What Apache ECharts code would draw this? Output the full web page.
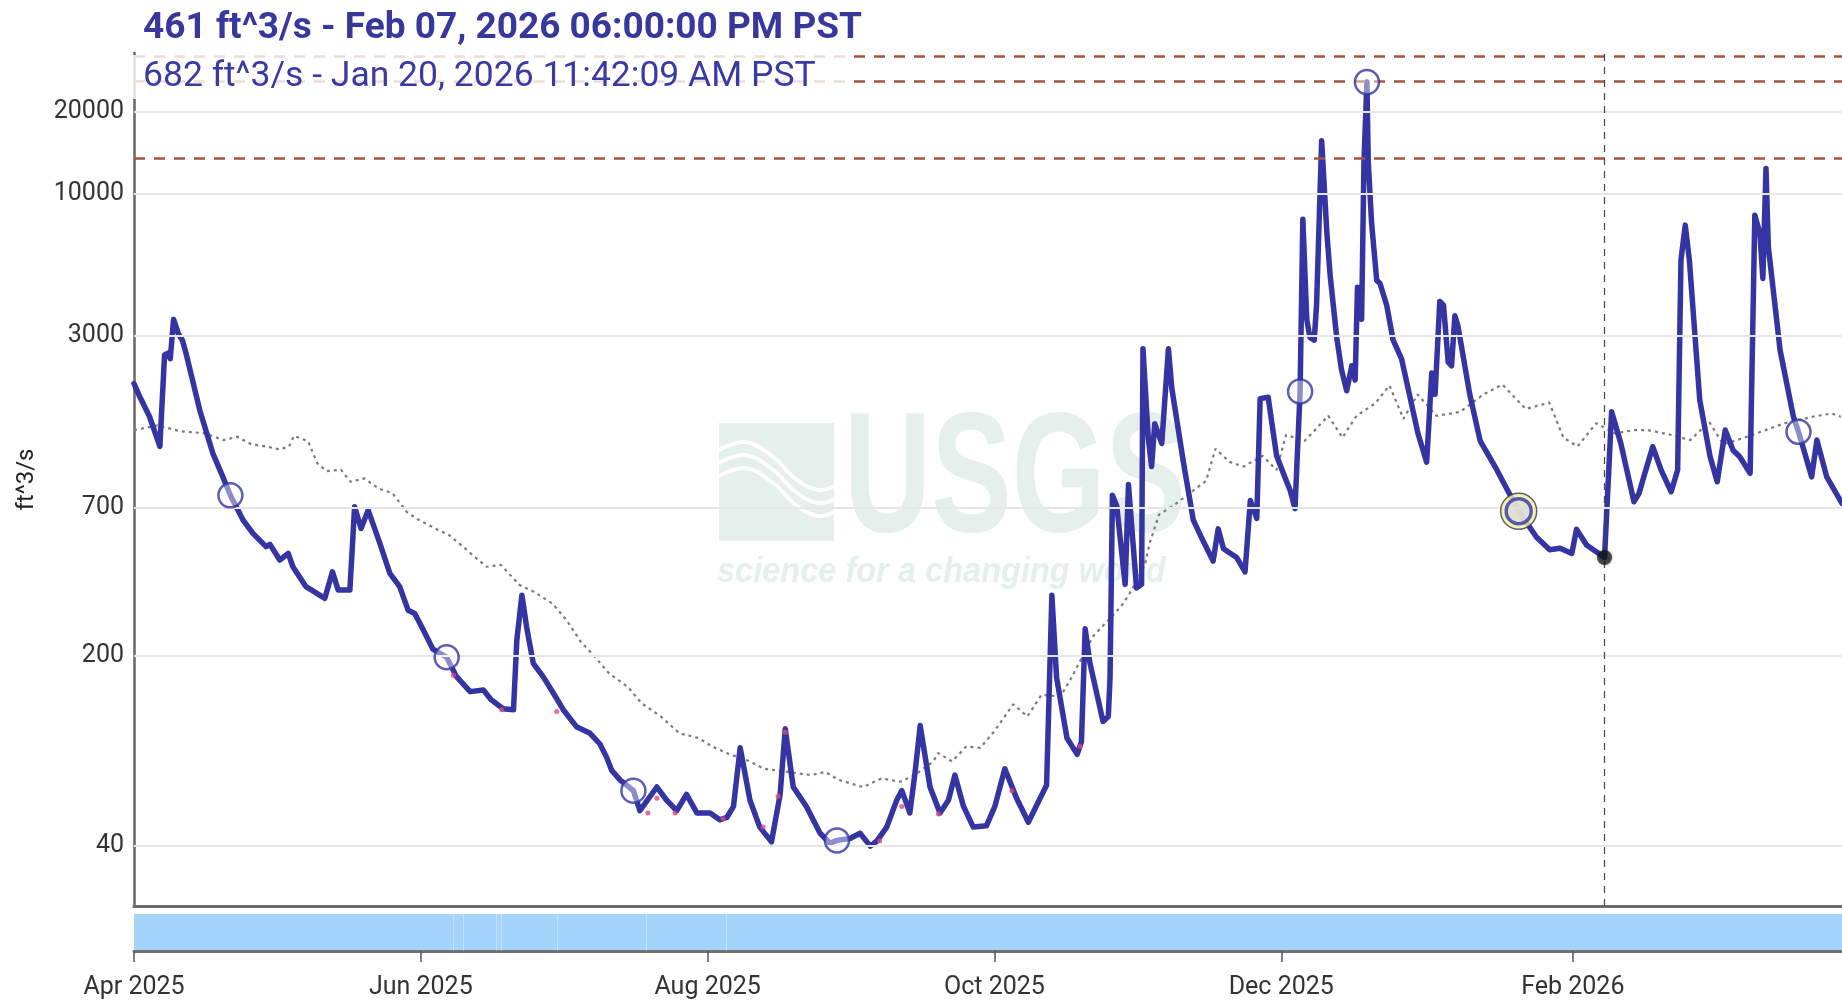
<!DOCTYPE html>
<html>
<head>
<meta charset="utf-8">
<title>Streamflow</title>
<script src="https://cdn.jsdelivr.net/npm/echarts@6/dist/echarts.min.js"></script>
<style>
  html, body { margin: 0; padding: 0; background: #fff; }
  #chartContainer { width: 1842px; height: 1002px; }
</style>
</head>
<body>
<div id="chartContainer"></div>
<script>
// discharge, ft^3/s (instantaneous)
var obsDates = [
  '2025-04-01 00:00','2025-04-02 05:00','2025-04-04 07:00','2025-04-06 12:00','2025-04-07 12:00','2025-04-08 05:00',
  '2025-04-08 17:00','2025-04-09 10:00','2025-04-10 10:00','2025-04-11 07:00','2025-04-12 02:00','2025-04-15 00:00',
  '2025-04-17 19:00','2025-04-19 22:00','2025-04-21 12:00','2025-04-24 05:00','2025-04-26 07:00','2025-04-29 02:00',
  '2025-04-29 22:00','2025-05-02 00:00','2025-05-03 19:00','2025-05-04 19:00','2025-05-07 14:00','2025-05-11 14:00',
  '2025-05-13 05:00','2025-05-14 10:00','2025-05-16 22:00','2025-05-17 22:00','2025-05-19 07:00','2025-05-20 19:00',
  '2025-05-23 07:00','2025-05-25 10:00','2025-05-27 12:00','2025-05-29 07:00','2025-05-30 17:00','2025-06-01 12:00',
  '2025-06-03 14:00','2025-06-06 12:00','2025-06-08 14:00','2025-06-11 12:00','2025-06-14 07:00','2025-06-16 00:00',
  '2025-06-18 12:00','2025-06-20 17:00','2025-06-21 10:00','2025-06-22 12:00','2025-06-23 12:00','2025-06-24 22:00',
  '2025-06-27 00:00','2025-06-29 05:00','2025-07-01 07:00','2025-07-04 02:00','2025-07-07 00:00','2025-07-09 02:00',
  '2025-07-10 12:00','2025-07-11 14:00','2025-07-13 10:00','2025-07-16 05:00','2025-07-17 14:00','2025-07-21 05:00',
  '2025-07-23 07:00','2025-07-25 10:00','2025-07-27 12:00','2025-07-29 17:00','2025-08-01 12:00','2025-08-03 14:00',
  '2025-08-05 02:00','2025-08-06 12:00','2025-08-07 22:00','2025-08-10 00:00','2025-08-12 02:00','2025-08-14 14:00',
  '2025-08-16 10:00','2025-08-17 12:00','2025-08-19 05:00','2025-08-22 00:00','2025-08-24 22:00','2025-08-27 00:00',
  '2025-08-28 12:00','2025-08-31 07:00','2025-09-02 10:00','2025-09-04 14:00','2025-09-06 00:00','2025-09-08 02:00',
  '2025-09-10 05:00','2025-09-11 07:00','2025-09-13 00:00','2025-09-14 02:00','2025-09-15 05:00','2025-09-17 07:00',
  '2025-09-19 10:00','2025-09-21 05:00','2025-09-22 14:00','2025-09-24 10:00','2025-09-26 12:00','2025-09-29 07:00',
  '2025-10-01 02:00','2025-10-03 05:00','2025-10-05 17:00','2025-10-08 05:00','2025-10-10 17:00','2025-10-12 02:00',
  '2025-10-13 05:00','2025-10-14 05:00','2025-10-16 10:00','2025-10-18 14:00','2025-10-19 12:00','2025-10-20 07:00',
  '2025-10-21 07:00','2025-10-24 02:00','2025-10-25 05:00','2025-10-25 14:00','2025-10-26 02:00','2025-10-27 00:00',
  '2025-10-28 19:00','2025-10-29 12:00','2025-10-31 05:00','2025-11-01 07:00','2025-11-01 14:00','2025-11-02 17:00',
  '2025-11-03 10:00','2025-11-04 02:00','2025-11-05 14:00','2025-11-07 00:00','2025-11-07 17:00','2025-11-10 05:00',
  '2025-11-12 07:00','2025-11-14 02:00','2025-11-16 12:00','2025-11-17 14:00','2025-11-18 17:00','2025-11-21 12:00',
  '2025-11-23 07:00','2025-11-24 10:00','2025-11-25 19:00','2025-11-26 12:00','2025-11-28 05:00','2025-11-30 00:00',
  '2025-12-02 02:00','2025-12-02 22:00','2025-12-03 22:00','2025-12-05 00:00','2025-12-05 14:00','2025-12-06 10:00',
  '2025-12-07 02:00','2025-12-08 00:00','2025-12-08 12:00','2025-12-09 14:00','2025-12-10 17:00','2025-12-11 10:00',
  '2025-12-12 19:00','2025-12-13 19:00','2025-12-14 22:00','2025-12-16 00:00','2025-12-16 17:00','2025-12-17 05:00',
  '2025-12-18 02:00','2025-12-18 14:00','2025-12-19 05:00','2025-12-19 12:00','2025-12-20 05:00','2025-12-21 07:00',
  '2025-12-22 00:00','2025-12-23 10:00','2025-12-24 19:00','2025-12-26 14:00','2025-12-28 10:00','2025-12-30 02:00',
  '2025-12-31 22:00','2026-01-02 00:00','2026-01-02 17:00','2026-01-03 17:00','2026-01-04 12:00','2026-01-05 12:00',
  '2026-01-06 05:00','2026-01-06 22:00','2026-01-07 14:00','2026-01-10 02:00','2026-01-12 07:00','2026-01-15 19:00',
  '2026-01-20 11:42','2026-01-24 07:00','2026-01-27 02:00','2026-01-29 07:00','2026-01-31 19:00','2026-02-01 19:00',
  '2026-02-03 22:00','2026-02-07 18:00','2026-02-09 06:00','2026-02-11 05:00','2026-02-14 00:00','2026-02-15 02:00',
  '2026-02-16 05:00','2026-02-18 00:00','2026-02-19 19:00','2026-02-21 22:00','2026-02-23 07:00','2026-02-24 00:00',
  '2026-02-24 22:00','2026-02-25 19:00','2026-02-28 00:00','2026-03-02 05:00','2026-03-03 17:00','2026-03-05 10:00',
  '2026-03-07 02:00','2026-03-08 12:00','2026-03-10 17:00','2026-03-11 17:00','2026-03-12 19:00','2026-03-13 10:00',
  '2026-03-14 02:00','2026-03-14 14:00','2026-03-17 02:00','2026-03-19 22:00','2026-03-21 00:00','2026-03-23 19:00',
  '2026-03-24 22:00','2026-03-27 00:00','2026-03-30 06:00'
];
var obsValues = [
  2010, 1800, 1520, 1180, 2560, 2600,
  2480, 3460, 3070, 2900, 2590, 1600,
  1110, 910, 780, 632, 565, 505,
  515, 451, 477, 426, 360, 326,
  408, 350, 350, 708, 589, 688,
  519, 403, 360, 295, 287, 250,
  212, 198, 168, 148, 150, 138,
  128, 127, 229, 335, 256, 188,
  168, 146, 127, 110, 104, 95,
  85, 76, 70, 64, 54, 66,
  59, 54, 62, 53, 53, 50,
  51, 56, 92, 59, 47, 41.5,
  62, 108, 66, 56, 44.6, 41,
  42, 42.7, 44.6, 40, 41.8, 47,
  59, 64, 53, 74, 111, 66,
  53, 59, 73, 56, 47, 47.5,
  56, 77, 60, 49, 60, 67,
  335, 167, 100, 87, 97, 252,
  189, 115, 120, 167, 781, 714,
  367, 855, 356, 367, 2700, 1267,
  995, 1430, 1211, 2700, 1935, 1026,
  632, 543, 447, 587, 496, 461,
  408, 747, 642, 1768, 1790, 1090,
  881, 811, 697, 1880, 8070, 3460,
  2970, 2900, 3900, 15700, 7140, 4970,
  2970, 2265, 1890, 2335, 2070, 4545,
  3460, 13090, 25800, 13090, 7820, 4820,
  4690, 3900, 2900, 2478, 1778, 1314,
  1033, 2197, 1833, 4025, 3900, 2407,
  2335, 3566, 3260, 1833, 1238, 971,
  682, 547, 492, 498, 477, 585,
  512, 461, 1582, 1211, 739, 793,
  926, 1177, 966, 804, 966, 5710,
  7685, 5710, 1746, 1081, 875, 1355,
  1143, 1081, 940, 8360, 7160, 4895,
  12420, 6400, 2667, 1517, 1336, 912,
  1245, 912, 728
];

// daily median of the period of record
var medianDates = [
  '2025-04-01','2025-04-06','2025-04-11','2025-04-16','2025-04-20','2025-04-23','2025-04-26','2025-04-29',
  '2025-05-02','2025-05-04','2025-05-05','2025-05-08','2025-05-10','2025-05-12','2025-05-15','2025-05-17',
  '2025-05-20','2025-05-23','2025-05-26','2025-05-29','2025-05-31','2025-06-04','2025-06-07','2025-06-10',
  '2025-06-12','2025-06-15','2025-06-18','2025-06-22','2025-06-25','2025-06-29','2025-07-02','2025-07-05',
  '2025-07-08','2025-07-11','2025-07-15','2025-07-18','2025-07-22','2025-07-26','2025-07-30','2025-08-02',
  '2025-08-05','2025-08-10','2025-08-13','2025-08-18','2025-08-23','2025-08-26','2025-08-29','2025-09-03',
  '2025-09-07','2025-09-11','2025-09-14','2025-09-18','2025-09-19','2025-09-22','2025-09-25','2025-09-28',
  '2025-10-01','2025-10-05','2025-10-08','2025-10-11','2025-10-15','2025-10-17','2025-10-22','2025-10-26',
  '2025-10-28','2025-10-30','2025-11-02','2025-11-03','2025-11-05','2025-11-08','2025-11-12','2025-11-15',
  '2025-11-17','2025-11-20','2025-11-23','2025-11-27','2025-11-30','2025-12-02','2025-12-06','2025-12-11',
  '2025-12-14','2025-12-17','2025-12-21','2025-12-24','2025-12-27','2025-12-30','2026-01-03','2026-01-08',
  '2026-01-13','2026-01-17','2026-01-22','2026-01-27','2026-01-30','2026-02-02','2026-02-06','2026-02-10',
  '2026-02-14','2026-02-17','2026-02-22','2026-02-26','2026-03-02','2026-03-05','2026-03-10','2026-03-14',
  '2026-03-18','2026-03-24','2026-03-28','2026-03-30'
];
var medianValues = [
  1355, 1410, 1340, 1320, 1245, 1280, 1200, 1180,
  1150, 1180, 1290, 1235, 1022, 957, 970, 875,
  900, 827, 793, 678, 641, 590, 557, 505,
  470, 426, 433, 365, 345, 312, 271, 226,
  199, 173, 154, 134, 120, 104, 100, 93,
  88, 82, 77, 75, 73, 75, 70, 66,
  71, 69, 73, 82, 88, 82, 93, 92,
  106, 133, 120, 144, 142, 162, 237, 280,
  306, 345, 433, 520, 662, 714, 805, 881,
  1157, 1035, 995, 1090, 966, 1300, 1238, 1529,
  1271, 1529, 1700, 1977, 1490, 1833, 1529, 1580,
  1833, 1993, 1620, 1710, 1271, 1180, 1436, 1318,
  1355, 1355, 1300, 1245, 1453, 1200, 1280, 1355,
  1436, 1517, 1560, 1517
];

// field measurements
var visitDates = ['2025-04-21 12:00','2025-06-06 12:00','2025-07-16 05:00','2025-08-28 12:00','2025-12-05 00:00','2025-12-19 05:00','2026-03-21 00:00'];
var visitValues = [780, 198, 64, 42, 1880, 25800, 1336];

// highlighted measurement and cursor point
var hoverDate = '2026-01-20 11:42';
var hoverValue = 682;
var cursorDate = '2026-02-07 18:00';
var cursorValue = 461;

// estimated / qualified points
var qualDates = ['2025-06-07 22:00','2025-06-18 05:00','2025-06-29 22:00','2025-07-19 07:00','2025-07-21 05:00','2025-07-25 02:00',
  '2025-08-04 07:00','2025-08-12 19:00','2025-08-16 00:00','2025-08-17 12:00','2025-09-06 14:00','2025-09-11 07:00',
  '2025-09-19 02:00','2025-10-04 17:00','2025-10-19 05:00'];
var qualValues = [170, 127, 125, 53, 60, 53, 50.5, 47, 61, 105, 41.8, 56, 52.5, 64, 93];

// flood thresholds
var floodValues = [13500, 26000, 32000];

var yTickValues = [40, 200, 700, 3000, 10000, 20000];
var xTickDates = ['2025-04-01', '2025-06-01', '2025-08-01', '2025-10-01', '2025-12-01', '2026-02-01'];
var xTickLabels = ['Apr 2025', 'Jun 2025', 'Aug 2025', 'Oct 2025', 'Dec 2025', 'Feb 2026'];
var navGapDates = ['2025-06-08', '2025-06-10', '2025-06-17', '2025-06-18', '2025-06-30', '2025-07-19', '2025-08-05'];

var xMin = '2025-04-01 00:00';
var xMax = '2026-03-30 06:00';
var yMin = 24.1;
var yMax = 33000;

var titleText = '461 ft^3/s - Feb 07, 2026 06:00:00 PM PST';
var hoverText = '682 ft^3/s - Jan 20, 2026 11:42:09 AM PST';

function zip(a, b) {
    return a.map(function (d, i) { return [d, b[i]]; });
}
function toTime(s) {
    return echarts.time.parse(s).getTime();
}

var blue = '#3434a2';
var tickTimes = xTickDates.map(toTime);

// USGS logo waves
function wave(y0) {
    return {
        type: 'polyline', z: 0, silent: true,
        shape: { points: [[719, y0], [745, y0 - 8], [772, y0 + 6], [797, y0 + 30], [818, y0 + 40], [834, y0 + 36]], smooth: 0.4 },
        style: { fill: null, stroke: '#ffffff', lineWidth: 4 }
    };
}

var chart = echarts.init(document.getElementById('chartContainer'));

chart.setOption({
    animation: false,
    backgroundColor: '#ffffff',
    textStyle: { fontFamily: 'Roboto, sans-serif' },
    grid: [
        { left: 134, right: 0, top: 53, height: 853 },
        { left: 134, right: 0, top: 914, height: 37, show: true, backgroundColor: '#a4d3fc', borderWidth: 0 }
    ],
    xAxis: [
        {
            type: 'time', gridIndex: 0, min: xMin, max: xMax,
            axisLine: { show: true, lineStyle: { color: '#6a6a6a', width: 3 } },
            axisTick: { show: false }, axisLabel: { show: false }, splitLine: { show: false }
        },
        {
            // navigator axis: plain value axis on timestamps so ticks sit on month starts
            type: 'value', gridIndex: 1, min: toTime(xMin), max: toTime(xMax), offset: 10,
            axisLine: { show: true, lineStyle: { color: '#6f6f6f', width: 3 } },
            axisTick: { show: true, length: 11, lineStyle: { color: '#555', width: 1.5 }, customValues: tickTimes },
            axisLabel: {
                customValues: tickTimes, fontSize: 25, color: '#333', margin: 14,
                formatter: function (v) {
                    var i = tickTimes.indexOf(v);
                    return i >= 0 ? xTickLabels[i] : '';
                }
            },
            splitLine: { show: false }
        }
    ],
    yAxis: [
        {
            type: 'log', gridIndex: 0, logBase: 10, min: yMin, max: yMax,
            name: 'ft^3/s', nameLocation: 'middle', nameGap: 95,
            nameTextStyle: { fontSize: 24, color: '#222' },
            axisLine: { show: true, lineStyle: { color: '#666', width: 2.5 } },
            axisTick: { show: false }, axisLabel: { show: false }, splitLine: { show: false }
        },
        { type: 'value', gridIndex: 1, min: 0, max: 1, show: false }
    ],
    graphic: [
        // watermark
        { type: 'rect', z: 0, silent: true, shape: { x: 719, y: 423, width: 115, height: 118 }, style: { fill: '#e5efec' } },
        wave(450), wave(463), wave(476),
        { type: 'text', z: 0, silent: true, x: 844, y: 484, scaleX: 0.71, style: { text: 'USGS', font: 'bold 170px "Liberation Sans", sans-serif', fill: '#e5efec', verticalAlign: 'middle' } },
        { type: 'text', z: 0, silent: true, x: 717, y: 572, scaleX: 0.93, style: { text: 'science for a changing world', font: 'italic bold 35px "Liberation Sans", sans-serif', fill: '#e5efec', verticalAlign: 'middle' } },
        // readouts
        { type: 'text', z: 100, silent: true, x: 143, y: 29, style: { text: titleText, font: 'bold 37px Roboto, sans-serif', fill: '#37379d', verticalAlign: 'middle' } },
        { type: 'text', z: 100, silent: true, x: 133, y: 77, style: { text: hoverText, font: '35.5px Roboto, sans-serif', fill: '#3a3aa6', verticalAlign: 'middle', backgroundColor: 'rgba(255,255,255,0.8)', padding: [5, 30, 3, 10] } }
    ],
    series: [
        {
            name: 'grid', type: 'line', xAxisIndex: 0, yAxisIndex: 0, data: [], z: 1,
            markLine: {
                silent: true, symbol: ['none', 'none'],
                lineStyle: { color: '#e6e6e6', width: 2, type: 'solid' },
                label: { show: true, position: 'start', distance: 10, fontSize: 25, color: '#333', formatter: function (p) { return String(p.value); } },
                emphasis: { disabled: true },
                data: yTickValues.map(function (v) { return { yAxis: v }; })
            }
        },
        {
            name: 'median', type: 'line', xAxisIndex: 0, yAxisIndex: 0, z: 2,
            showSymbol: false, silent: true,
            lineStyle: { color: '#7b7b7b', width: 2.2, type: [3, 4] },
            data: zip(medianDates, medianValues)
        },
        {
            name: 'flood', type: 'line', xAxisIndex: 0, yAxisIndex: 0, data: [], z: 3,
            markLine: {
                silent: true, symbol: ['none', 'none'],
                lineStyle: { color: '#a7543c', width: 2.5, type: [11, 9] },
                label: { show: false },
                emphasis: { disabled: true },
                data: floodValues.map(function (v) { return { yAxis: v }; })
            }
        },
        {
            name: 'cursor', type: 'line', xAxisIndex: 0, yAxisIndex: 0, data: [], z: 3,
            markLine: {
                silent: true, symbol: ['none', 'none'],
                lineStyle: { color: '#444', width: 1.2, type: [7, 6] },
                label: { show: false },
                emphasis: { disabled: true },
                data: [{ xAxis: cursorDate }]
            }
        },
        {
            name: 'discharge', type: 'line', xAxisIndex: 0, yAxisIndex: 0, z: 4,
            showSymbol: false, silent: true,
            lineStyle: { color: blue, width: 5.5, join: 'round', cap: 'round' },
            data: zip(obsDates, obsValues)
        },
        {
            name: 'qualified', type: 'scatter', xAxisIndex: 0, yAxisIndex: 0, z: 5,
            symbolSize: 5, silent: true,
            itemStyle: { color: '#e4457e' },
            data: zip(qualDates, qualValues)
        },
        {
            name: 'field', type: 'scatter', xAxisIndex: 0, yAxisIndex: 0, z: 6,
            symbolSize: 24, silent: true,
            itemStyle: { color: 'rgba(255,255,255,0.55)', borderColor: blue, borderWidth: 2.5 },
            data: zip(visitDates, visitValues)
        },
        {
            name: 'hoverRing', type: 'scatter', xAxisIndex: 0, yAxisIndex: 0, z: 7,
            symbolSize: 36, silent: true,
            itemStyle: { color: '#f3eeaa', borderColor: '#3a3a3a', borderWidth: 1.5 },
            data: [[hoverDate, hoverValue]]
        },
        {
            name: 'hover', type: 'scatter', xAxisIndex: 0, yAxisIndex: 0, z: 8,
            symbolSize: 25, silent: true,
            itemStyle: { color: '#dcdcdc', borderColor: blue, borderWidth: 3.5 },
            data: [[hoverDate, hoverValue]]
        },
        {
            name: 'current', type: 'scatter', xAxisIndex: 0, yAxisIndex: 0, z: 8,
            symbolSize: 15, silent: true,
            itemStyle: { color: 'rgba(20,20,20,0.88)', shadowBlur: 3, shadowColor: 'rgba(0,0,0,0.5)' },
            data: [[cursorDate, cursorValue]]
        },
        {
            name: 'nav', type: 'line', xAxisIndex: 1, yAxisIndex: 1, data: [], z: 2,
            markLine: {
                silent: true, symbol: ['none', 'none'],
                lineStyle: { color: 'rgba(255,255,255,0.35)', width: 1, type: 'solid' },
                label: { show: false },
                emphasis: { disabled: true },
                data: navGapDates.map(function (d) { return { xAxis: toTime(d) }; })
            }
        }
    ]
});
</script>
</body>
</html>
